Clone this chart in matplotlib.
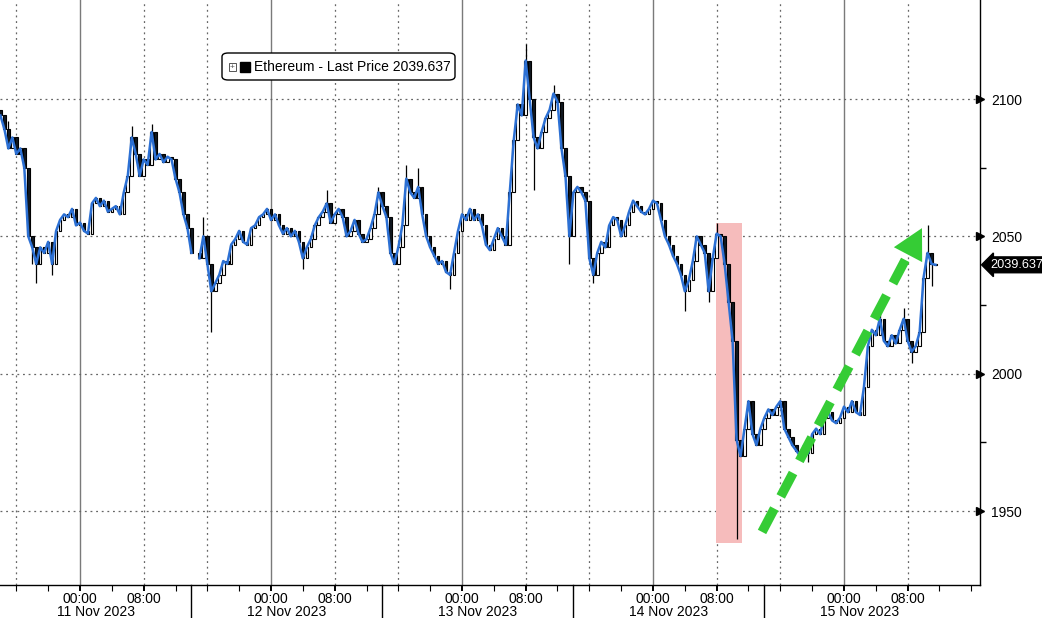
import numpy as np
import matplotlib
matplotlib.use("Agg")
import matplotlib.pyplot as plt
from matplotlib.patches import Rectangle, FancyBboxPatch, Polygon

plt.rcParams['font.family'] = ['Liberation Sans', 'DejaVu Sans']

# ---------------- data ----------------
start_hour = -10.0   # hours relative to 11 Nov 2023 00:00
step_hours = 0.5     # 30-minute bars
first_open = 2096.0
close = [
    2094, 2089, 2082, 2086, 2080, 2082, 2075, 2050, 2046, 2040,
    2046, 2044, 2048, 2040, 2052, 2056, 2058, 2057, 2060, 2054,
    2055, 2052, 2051, 2062, 2064, 2061, 2063, 2059, 2060, 2061,
    2058, 2066, 2072, 2086, 2080, 2072, 2078, 2076, 2088, 2078,
    2080, 2077, 2079, 2078, 2071, 2066, 2058, 2053, 2044, np.nan,
    2042, 2050, 2040, 2030, 2033, 2036, 2041, 2040, 2047, 2049,
    2052, 2048, 2047, 2053, 2054, 2057, 2058, 2060, 2056, 2058,
    2054, 2051, 2053, 2050, 2052, 2048, 2042, 2046, 2049, 2054,
    2057, 2059, 2062, 2055, 2058, 2060, 2057, 2050, 2052, 2056,
    2051, 2048, 2049, 2053, 2058, 2066, 2061, 2057, 2044, 2040,
    2046, 2054, 2071, 2066, 2064, 2068, 2058, 2050, 2046, 2043,
    2040, 2041, 2037, 2036, 2044, 2052, 2058, 2056, 2060, 2056,
    2058, 2054, 2047, 2045, 2049, 2053, 2050, 2047, 2066, 2085,
    2098, 2094, 2114, 2100, 2086, 2082, 2088, 2093, 2096, 2102,
    2099, 2082, 2072, 2050, 2066, 2068, 2066, 2063, 2042, 2036,
    2044, 2048, 2046, 2054, 2057, 2056, 2050, 2054, 2059, 2063,
    2061, 2059, 2058, 2060, 2063, 2062, 2056, 2050, 2047, 2043,
    2040, 2036, 2030, 2034, 2041, 2050, 2047, 2044, 2030, 2042,
    2051, 2050, 2040, 2026, 2012, 1976, 1970, 1980, 1990, 1978,
    1974, 1980, 1984, 1987, 1985, 1988, 1990, 1980, 1977, 1974,
    1972, 1970, 1974, 1971, 1978, 1980, 1978, 1984, 1986, 1983,
    1982, 1984, 1988, 1986, 1990, 1986, 1985, 1995, 2010, 2016,
    2014, 2020, 2012, 2010, 2014, 2011, 2016, 2020, 2012, 2008,
    2010, 2015, 2035, 2044, 2040, 2039.637,
]
spike_high_idx = [2, 33, 38, 51, 82, 95, 102, 105, 132, 139, 180, 221, 227, 233]
spike_high_val = [2092, 2090, 2091, 2057, 2067, 2068, 2076, 2075, 2120, 2105, 2055, 2023, 2024, 2054]
spike_low_idx = [8, 9, 13, 53, 76, 113, 134, 143, 149, 172, 178, 185, 203, 229, 234]
spike_low_val = [2040, 2033, 2036, 2015, 2038, 2031, 2067, 2040, 2033, 2023, 2026, 1940, 1968, 2004, 2032]

last_price = 2039.637
y_ticks = [1950, 2000, 2050, 2100]
y_minor = [1975, 2025, 2075]
day_labels = ["11 Nov 2023", "12 Nov 2023", "13 Nov 2023", "14 Nov 2023", "15 Nov 2023"]
day_starts = [0, 24, 48, 72, 96]          # 00:00 of each day (hours)
session_breaks = [14, 38, 62, 86]          # date separators (hours)
highlight_span = (79.9, 83.2, 1938.4, 2054.9)  # t0, t1, low, high
arrow_start = (85.7, 1942.4)
arrow_end = (105.8, 2053.0)

# ---------------- derived OHLC ----------------
c = np.array(close, dtype=float)
n = len(c)
t = start_hour + step_hours * np.arange(n)
o = np.empty(n)
prev = first_open
for i in range(n):
    o[i] = prev if not np.isnan(c[i]) else np.nan
    if not np.isnan(c[i]):
        prev = c[i]
hi = np.fmax(o, c)
lo = np.fmin(o, c)
for k, v in zip(spike_high_idx, spike_high_val):
    hi[k] = max(hi[k], v)
for k, v in zip(spike_low_idx, spike_low_val):
    lo[k] = min(lo[k], v)

# ---------------- figure ----------------
W, H, DPI = 1042, 618, 100
fig = plt.figure(figsize=(W / DPI, H / DPI), dpi=DPI)
ax = fig.add_axes([0, 1 - 585 / H, 980 / W, 585 / H])
xlim = (-10.053, 113.09)
ylim = (1923.08, 2136.04)
ax.set_xlim(*xlim)
ax.set_ylim(*ylim)

# grid
dot = (0, (1.5, 3))
for d in day_starts:
    ax.axvline(d, color="#7a7a7a", lw=1.0, zorder=1)
    for off in (8, -8):
        ax.axvline(d + off, color="#666666", lw=0.9, ls=dot, zorder=1)
for yv in y_ticks:
    ax.axhline(yv, color="#666666", lw=0.9, ls=dot, zorder=1)

# highlight
t0, t1, ylo, yhi = highlight_span
ax.add_patch(Rectangle((t0, ylo), t1 - t0, yhi - ylo, facecolor="#f6bcbc",
                       edgecolor="none", zorder=2))

# candles
valid = ~np.isnan(c)
ax.vlines(t[valid], lo[valid], hi[valid], color="black", lw=0.9, zorder=3)
up = valid & (c >= o)
dn = valid & (c < o)
bw = 0.32
ax.bar(t[up], np.maximum(c[up] - o[up], 0.15), bottom=o[up], width=bw,
       facecolor="white", edgecolor="black", linewidth=0.8, zorder=4)
ax.bar(t[dn], np.maximum(o[dn] - c[dn], 0.15), bottom=c[dn], width=bw,
       facecolor="#101820", edgecolor="black", linewidth=0.8, zorder=4)
ax.plot(t, c, color="#2c70d4", lw=1.8, zorder=5, solid_joinstyle="round")

# green dashed arrow
fig.canvas.draw()
p0 = ax.transData.transform(arrow_start)
p1 = ax.transData.transform(arrow_end)
vec = p1 - p0
L = np.hypot(*vec)
u = vec / L
nrm = np.array([-u[1], u[0]])
head_len, head_w = 30.0, 16.0
base = p1 - u * head_len
shaft_end = ax.transData.inverted().transform(p1 - u * (head_len - 2))
ax.plot([arrow_start[0], shaft_end[0]], [arrow_start[1], shaft_end[1]],
        color="#35cc35", lw=6.8, dashes=(2.8, 1.45), solid_capstyle="butt",
        dash_capstyle="butt", zorder=6)
tri_disp = np.array([p1, base + nrm * head_w, base - nrm * head_w])
tri = ax.transData.inverted().transform(tri_disp)
ax.add_patch(Polygon(tri, closed=True, facecolor="#35cc35", edgecolor="none", zorder=6))

# spines / axes
for s in ("top", "left"):
    ax.spines[s].set_visible(False)
ax.spines["bottom"].set_linewidth(1.0)
ax.spines["right"].set_linewidth(1.0)
ax.yaxis.tick_right()
ax.set_yticks(y_ticks)
ax.set_yticks(y_minor, minor=True)
ax.set_yticklabels([str(v) for v in y_ticks])
ax.tick_params(axis="y", which="major", length=0, pad=8, labelsize=10)
ax.tick_params(axis="y", which="minor", length=4, width=1, direction="out")
for yv in y_ticks:
    ax.plot([1.0], [yv], marker=">", color="black", markersize=6,
            transform=ax.get_yaxis_transform(), clip_on=False, zorder=10)

xt = []
xl = []
for d in day_starts:
    xt += [d, d + 8]
    xl += ["00:00", "08:00"]
ax.set_xticks(xt)
ax.set_xticklabels(xl)
ax.set_xticks(np.arange(-8, 113, 4), minor=True)
ax.tick_params(axis="x", which="major", length=4, width=1.4, pad=1.0, labelsize=10)
ax.tick_params(axis="x", which="minor", length=4, width=0.8)

trans = ax.get_xaxis_transform()
for b in session_breaks:
    ax.plot([b, b], [0, -0.07], color="black", lw=1.0, transform=trans, clip_on=False)
bounds = [xlim[0]] + session_breaks + [session_breaks[-1] + 24]
mids = [(bounds[i] + bounds[i + 1]) / 2 for i in range(len(day_labels))]
for m, lab in zip(mids, day_labels):
    ax.text(m, -0.0455, lab, transform=trans, ha="center", va="center", fontsize=10)

# last price tag
ax.text(1.0 + 10 / 980, last_price, f"{last_price:.3f}", transform=ax.get_yaxis_transform(),
        ha="left", va="center", color="white", fontsize=9.2, clip_on=False, zorder=11,
        bbox=dict(boxstyle="larrow,pad=0.15", facecolor="black", edgecolor="black"))

# legend box
fig.patches.append(FancyBboxPatch((222 / W, 1 - 80 / H), 233 / W, 27 / H,
                                  boxstyle="round,pad=0,rounding_size=0.006",
                                  transform=fig.transFigure, facecolor="white",
                                  edgecolor="black", linewidth=1.0, zorder=20))
fig.patches.append(Rectangle((229 / W, 1 - 70.5 / H), 7 / W, 7 / H, transform=fig.transFigure,
                             facecolor="white", edgecolor="#555555", linewidth=0.7, zorder=21))
fig.text(232.5 / W, 1 - 67 / H, "+", ha="center", va="center", fontsize=6, color="#555555", zorder=22)
fig.patches.append(Rectangle((240 / W, 1 - 72 / H), 10 / W, 10 / H, transform=fig.transFigure,
                             facecolor="black", edgecolor="black", zorder=21))
fig.text(254 / W, 1 - 67 / H, f"Ethereum - Last Price {last_price:.3f}", ha="left",
         va="center", fontsize=10, zorder=22)

fig.savefig("out.png", dpi=DPI)
